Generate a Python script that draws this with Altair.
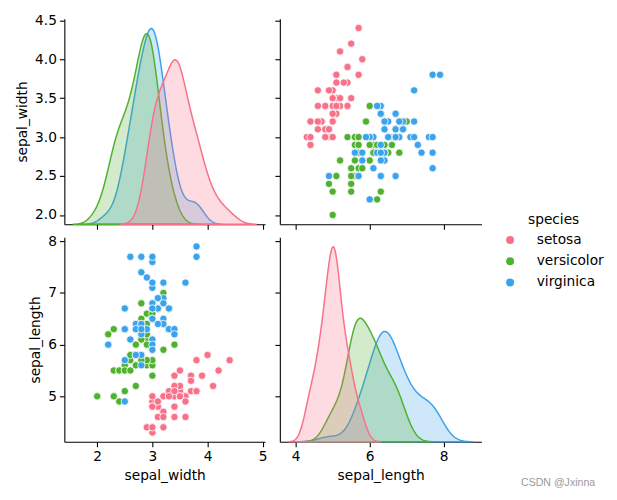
import altair as alt
import pandas as pd
import numpy as np

# ---------------- data (iris, as shown in the picture) ----------------
species_names = ["setosa", "versicolor", "virginica"]
palette = ["#f77189", "#50b131", "#3ba3ec"]

setosa_sepal_length = [5.1, 4.9, 4.7, 4.6, 5.0, 5.4, 4.6, 5.0, 4.4, 4.9, 5.4, 4.8, 4.8, 4.3, 5.8,
                       5.7, 5.4, 5.1, 5.7, 5.1, 5.4, 5.1, 4.6, 5.1, 4.8, 5.0, 5.0, 5.2, 5.2, 4.7,
                       4.8, 5.4, 5.2, 5.5, 4.9, 5.0, 5.5, 4.9, 4.4, 5.1, 5.0, 4.4, 5.0, 5.1, 4.8,
                       5.1, 4.6, 5.3, 5.0]
setosa_sepal_width = [3.5, 3.0, 3.2, 3.1, 3.6, 3.9, 3.4, 3.4, 2.9, 3.1, 3.7, 3.4, 3.0, 3.0, 4.0,
                      4.4, 3.9, 3.5, 3.8, 3.8, 3.4, 3.7, 3.6, 3.3, 3.4, 3.0, 3.4, 3.5, 3.4, 3.2,
                      3.1, 3.4, 4.1, 4.2, 3.1, 3.2, 3.5, 3.6, 3.0, 3.4, 3.5, 3.2, 3.5, 3.8, 3.0,
                      3.8, 3.2, 3.7, 3.3]

versicolor_sepal_length = [7.0, 6.4, 6.9, 5.5, 6.5, 5.7, 6.3, 4.9, 6.6, 5.2, 5.0, 5.9, 6.0, 6.1, 5.6,
                           6.7, 5.6, 5.8, 6.2, 5.6, 5.9, 6.1, 6.3, 6.1, 6.4, 6.6, 6.8, 6.7, 6.0, 5.7,
                           5.5, 5.5, 5.8, 6.0, 5.4, 6.0, 6.7, 6.3, 5.6, 5.5, 5.5, 6.1, 5.8, 5.0, 5.6,
                           5.7, 5.7, 6.2, 5.1, 5.7]
versicolor_sepal_width = [3.2, 3.2, 3.1, 2.3, 2.8, 2.8, 3.3, 2.4, 2.9, 2.7, 2.0, 3.0, 2.2, 2.9, 2.9,
                          3.1, 3.0, 2.7, 2.2, 2.5, 3.2, 2.8, 2.5, 2.8, 2.9, 3.0, 2.8, 3.0, 2.9, 2.6,
                          2.4, 2.4, 2.7, 2.7, 3.0, 3.4, 3.1, 2.3, 3.0, 2.5, 2.6, 3.0, 2.6, 2.3, 2.7,
                          3.0, 2.9, 2.9, 2.5, 2.8]

virginica_sepal_length = [6.3, 5.8, 7.1, 6.3, 6.5, 7.6, 4.9, 7.3, 6.7, 7.2, 6.5, 6.4, 6.8, 5.7, 5.8,
                          6.4, 6.5, 7.7, 7.7, 6.0, 6.9, 5.6, 7.7, 6.3, 6.7, 7.2, 6.2, 6.1, 6.4, 7.2,
                          7.4, 7.9, 6.4, 6.3, 6.1, 7.7, 6.3, 6.4, 6.0, 6.9, 6.7, 6.9, 5.8, 6.8, 6.7,
                          6.7, 6.3, 6.5, 6.2, 5.9]
virginica_sepal_width = [3.3, 2.7, 3.0, 2.9, 3.0, 3.0, 2.5, 2.9, 2.5, 3.6, 3.2, 2.7, 3.0, 2.5, 2.8,
                         3.2, 3.0, 3.8, 2.6, 2.2, 3.2, 2.8, 2.8, 2.7, 3.3, 3.2, 2.8, 3.0, 2.8, 3.0,
                         2.8, 3.8, 2.8, 2.8, 2.6, 3.0, 3.4, 3.1, 3.0, 3.1, 3.1, 3.1, 2.7, 3.2, 3.3,
                         3.0, 2.5, 3.0, 3.4, 3.0]

variables = ["sepal_width", "sepal_length"]
tick_values = {"sepal_width": {"x": [2, 3, 4, 5], "y": [2.0, 2.5, 3.0, 3.5, 4.0, 4.5]},
               "sepal_length": {"x": [4, 6, 8], "y": [5, 6, 7, 8]}}
tick_format = {"sepal_width": {"x": "d", "y": ".1f"},
               "sepal_length": {"x": "d", "y": "d"}}

sl = {"setosa": setosa_sepal_length, "versicolor": versicolor_sepal_length,
      "virginica": virginica_sepal_length}
sw = {"setosa": setosa_sepal_width, "versicolor": versicolor_sepal_width,
      "virginica": virginica_sepal_width}

rows = []
for s in species_names:
    for a, b in zip(sl[s], sw[s]):
        rows.append({"sepal_length": a, "sepal_width": b, "species": s})
df = pd.DataFrame(rows)
N = len(df)

# ---------------- KDE parameters (scott rule, cut=3, common_norm) ----------------
kde = {}
for v in variables:
    kde[v] = {}
    for s in species_names:
        x = np.asarray(df.loc[df.species == s, v], dtype=float)
        bw = float(np.std(x, ddof=1) * len(x) ** (-0.2))
        lo, hi = float(x.min() - 3 * bw), float(x.max() + 3 * bw)
        g = np.linspace(lo, hi, 200)
        pdf = np.exp(-0.5 * ((g[:, None] - x[None, :]) / bw) ** 2).sum(1) / (len(x) * bw * np.sqrt(2 * np.pi))
        w = len(x) / N
        kde[v][s] = {"bw": bw, "extent": [lo, hi], "w": w, "max": float(pdf.max() * w)}

col_dom, row_dom, dens_max = {}, {}, {}
for v in variables:
    lo = min(kde[v][s]["extent"][0] for s in species_names)
    hi = max(kde[v][s]["extent"][1] for s in species_names)
    m = 0.05 * (hi - lo)
    col_dom[v] = [lo - m, hi + m]
    dlo, dhi = float(df[v].min()), float(df[v].max())
    m = 0.05 * (dhi - dlo)
    row_dom[v] = [dlo - m, dhi + m]
    dens_max[v] = 1.05 * max(kde[v][s]["max"] for s in species_names)

W = {"sepal_width": 203, "sepal_length": 204}
H = {"sepal_width": 208, "sepal_length": 207}

color = alt.Color("species:N",
                  scale=alt.Scale(domain=species_names, range=palette),
                  legend=alt.Legend(orient="none", legendX=444, legendY=197,
                                    title="species", titleAnchor="middle",
                                    titleFontSize=13.9, titleFontWeight="normal",
                                    titleColor="black", titlePadding=6,
                                    labelFontSize=13.9, labelColor="black",
                                    symbolType="circle", symbolSize=64,
                                    symbolStrokeWidth=0, symbolOpacity=1,
                                    labelOffset=20, rowPadding=6.5))


def xenc(field, var, show):
    return alt.X(f"{field}:Q",
                 scale=alt.Scale(domain=col_dom[var], nice=False, zero=False),
                 axis=alt.Axis(values=tick_values[var]["x"], labels=show,
                               format=tick_format[var]["x"],
                               title=var if show else None))


def yenc(var, show):
    return alt.Y(f"{var}:Q",
                 scale=alt.Scale(domain=row_dom[var], nice=False, zero=False),
                 axis=alt.Axis(values=tick_values[var]["y"], labels=show,
                               format=tick_format[var]["y"],
                               title=var if show else None))


def scatter(rv, cv, show_x, show_y):
    return alt.Chart(df).mark_circle(size=56, opacity=1, stroke="white", strokeWidth=0.8).encode(
        x=xenc(cv, cv, show_x), y=yenc(rv, show_y), color=color
    ).properties(width=W[cv], height=H[rv])


def diag(v, show_x, show_y, extra=None):
    axis_layer = alt.Chart(df).mark_point(opacity=0).encode(
        x=xenc(v, v, show_x), y=yenc(v, show_y))
    dens = []
    for s, c in reversed(list(zip(species_names, palette))):
        k = kde[v][s]
        dens.append(
            alt.Chart(df).transform_filter(alt.datum.species == s)
            .transform_density(v, as_=[v, "density"], bandwidth=k["bw"],
                               extent=k["extent"], steps=200, groupby=["species"])
            .transform_calculate(d=f"datum.density * {k['w']}")
            .mark_area(color=c, fillOpacity=0.25, stroke=c, strokeWidth=1.5, strokeOpacity=1)
            .encode(x=xenc(v, v, show_x),
                    y=alt.Y("d:Q", scale=alt.Scale(domain=[0, dens_max[v]], nice=False, zero=True),
                            axis=None))
        )
    layers = [axis_layer, alt.layer(*dens)]
    if extra is not None:
        layers.append(extra)
    return alt.layer(*layers).resolve_scale(y="independent").properties(width=W[v], height=H[v])


watermark = alt.Chart(pd.DataFrame({"t": ["CSDN @Jxinna"]})).mark_text(
    align="right", baseline="middle", fontSize=10.7, font="Liberation Sans", color="#9a9a9a"
).encode(text="t:N", x=alt.value(319), y=alt.value(249))

p11 = diag("sepal_width", False, True)
p12 = scatter("sepal_width", "sepal_length", False, False)
p21 = scatter("sepal_length", "sepal_width", True, True)
p22 = diag("sepal_length", True, False, extra=watermark)

chart = alt.concat(p11, p12, p21, p22, columns=2, spacing={"row": 13, "column": 15},
                   bounds="flush").properties(
    padding={"left": 7, "top": 2, "right": 5, "bottom": 5}
).configure(font="DejaVu Sans").configure_view(stroke=None).configure_axis(
    grid=False, domainColor="black", domainWidth=1.1, tickColor="black", tickWidth=1.1,
    tickSize=5, labelColor="black", labelFontSize=13.9, labelPadding=3,
    titleColor="black", titleFontSize=13.9, titleFontWeight="normal", titlePadding=5,
    labelFont="DejaVu Sans", titleFont="DejaVu Sans"
).configure_legend(labelFont="DejaVu Sans", titleFont="DejaVu Sans")

chart.save("out.html", embed_options={"renderer": "svg", "actions": False})
